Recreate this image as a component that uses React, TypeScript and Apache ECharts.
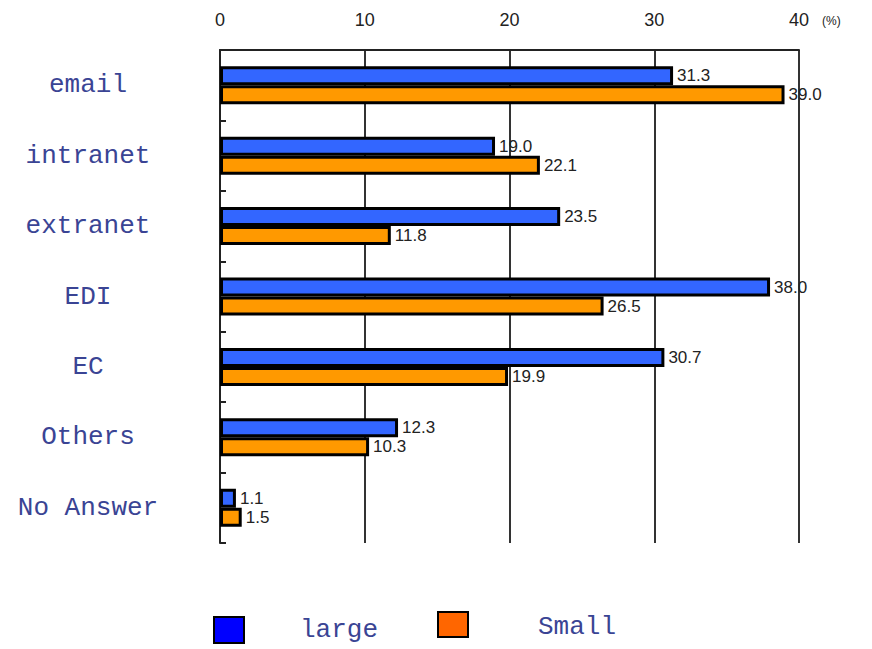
import React, { useEffect, useRef } from "react";
import * as echarts from "echarts";

const categories = ["email", "intranet", "extranet", "EDI", "EC", "Others", "No Answer"];
const largeValues = [31.3, 19.0, 23.5, 38.0, 30.7, 12.3, 1.1];
const smallValues = [39.0, 22.1, 11.8, 26.5, 19.9, 10.3, 1.5];
const seriesNames = ["large", "Small"];
const xTicks = { min: 0, max: 40, interval: 10 };

const labelFont = "'Liberation Mono', 'DejaVu Sans Mono', monospace";
const numFont = "'Liberation Sans', Arial, sans-serif";

export default function App() {
  const ref = useRef<HTMLDivElement>(null);
  useEffect(() => {
    if (!ref.current) return;
    const chart = echarts.init(ref.current, null, { renderer: "svg" });
    const valueLabel = {
      show: true,
      position: "right" as const,
      distance: 4,
      fontSize: 17,
      fontFamily: numFont,
      color: "#222",
      formatter: (p: any) => Number(p.value).toFixed(1),
    };
    chart.setOption({
      animation: false,
      backgroundColor: "#fff",
      grid: { left: 220, right: 73, top: 50, bottom: 106, containLabel: false },
      xAxis: {
        type: "value",
        position: "top",
        min: xTicks.min,
        max: xTicks.max,
        interval: xTicks.interval,
        axisLine: { show: true, lineStyle: { color: "#222", width: 2 } },
        axisTick: { show: false },
        axisLabel: { fontSize: 18, fontFamily: numFont, color: "#222", margin: 21 },
        splitLine: { show: true, lineStyle: { color: "#333", width: 2 } },
      },
      yAxis: {
        type: "category",
        inverse: true,
        data: categories,
        axisLine: { show: true, lineStyle: { color: "#222", width: 2 } },
        axisTick: { show: true, inside: true, length: 6, lineStyle: { color: "#222", width: 2 } },
        axisLabel: {
          fontSize: 26,
          fontFamily: labelFont,
          color: "#3a4494",
          align: "center",
          margin: 132,
        },
        splitLine: { show: false },
      },
      series: [
        {
          name: seriesNames[0],
          type: "bar",
          data: largeValues,
          barWidth: 19,
          barGap: "0%",
          itemStyle: { color: "#3366ff", borderColor: "#000", borderWidth: 3 },
          label: valueLabel,
        },
        {
          name: seriesNames[1],
          type: "bar",
          data: smallValues,
          barWidth: 19,
          barGap: "0%",
          itemStyle: { color: "#ff9900", borderColor: "#000", borderWidth: 3 },
          label: valueLabel,
          z: 3,
        },
      ],
      graphic: [
        {
          type: "text",
          left: 822,
          top: 15,
          style: { text: "(%)", fontSize: 12, fontFamily: numFont, fill: "#222" },
        },
        {
          type: "rect",
          shape: { x: 214, y: 617, width: 30, height: 26 },
          style: { fill: "#0000ff", stroke: "#000", lineWidth: 2 },
        },
        {
          type: "text",
          x: 300,
          y: 630,
          style: {
            text: seriesNames[0],
            fontSize: 26,
            fontFamily: labelFont,
            fill: "#3a4494",
            verticalAlign: "middle",
          },
        },
        {
          type: "rect",
          shape: { x: 438, y: 612, width: 30, height: 25 },
          style: { fill: "#ff6600", stroke: "#000", lineWidth: 2 },
        },
        {
          type: "text",
          x: 538,
          y: 627,
          style: {
            text: seriesNames[1],
            fontSize: 26,
            fontFamily: labelFont,
            fill: "#3a4494",
            verticalAlign: "middle",
          },
        },
      ],
    });
    return () => chart.dispose();
  }, []);
  return <div ref={ref} style={{ width: 872, height: 649, position: "absolute", left: 0, top: 0 }} />;
}
